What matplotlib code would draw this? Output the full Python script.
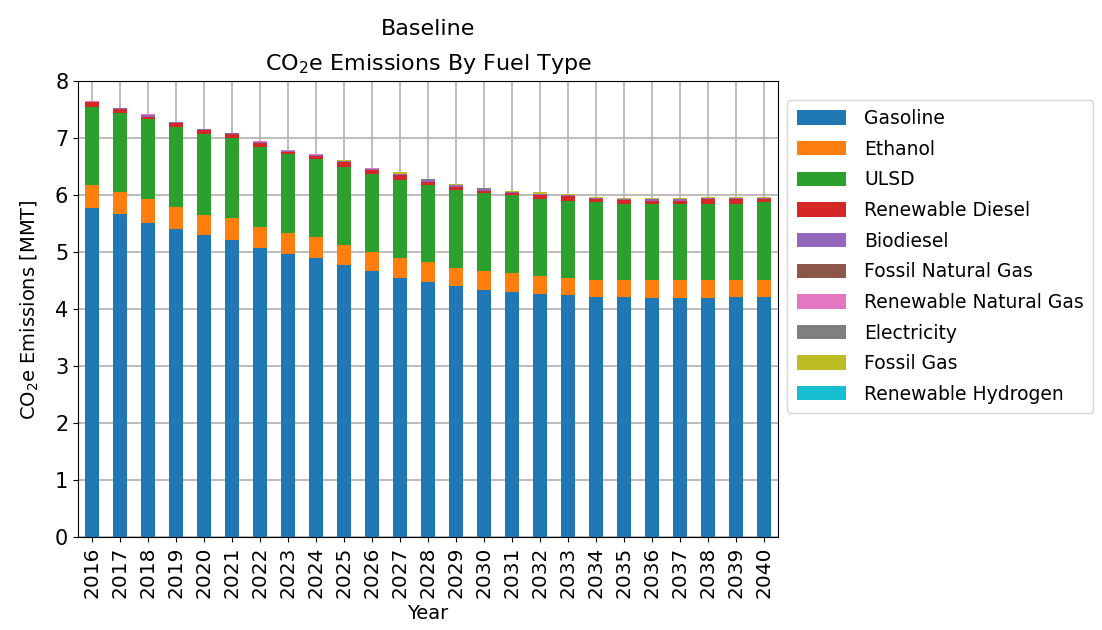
import matplotlib
matplotlib.use("Agg")
import matplotlib.pyplot as plt
import numpy as np

years = list(range(2016, 2041))

gasoline = [5.78, 5.67, 5.52, 5.40, 5.30, 5.22, 5.08, 4.97, 4.90, 4.78, 4.67, 4.55, 4.48,
            4.40, 4.33, 4.30, 4.27, 4.25, 4.22, 4.22, 4.20, 4.20, 4.20, 4.22, 4.22]
ethanol = [0.40, 0.39, 0.41, 0.40, 0.36, 0.38, 0.37, 0.36, 0.37, 0.34, 0.33, 0.35, 0.34,
           0.33, 0.34, 0.33, 0.31, 0.30, 0.30, 0.30, 0.32, 0.32, 0.32, 0.30, 0.30]
ulsd = [1.37, 1.39, 1.40, 1.40, 1.42, 1.40, 1.40, 1.39, 1.36, 1.38, 1.38, 1.37, 1.36,
        1.37, 1.36, 1.37, 1.35, 1.35, 1.36, 1.33, 1.33, 1.33, 1.33, 1.33, 1.36]
renewable_diesel = [0.08, 0.07, 0.05, 0.07, 0.07, 0.08, 0.07, 0.04, 0.05, 0.08, 0.07, 0.08, 0.05,
                    0.05, 0.04, 0.04, 0.07, 0.08, 0.05, 0.07, 0.05, 0.05, 0.08, 0.08, 0.05]
biodiesel = [0.01, 0.01, 0.02, 0.01, 0.01, 0.01, 0.02, 0.02, 0.03, 0.02, 0.01, 0.02, 0.03,
             0.03, 0.04, 0.02, 0.02, 0.02, 0.02, 0.02, 0.04, 0.04, 0.02, 0.02, 0.02]
fossil_natural_gas = [0.0] * 25
renewable_natural_gas = [0.01, 0.0, 0.02, 0.0, 0.01, 0.0, 0.01, 0.02, 0.02, 0.0, 0.01, 0.0, 0.01,
                         0.0, 0.0, 0.0, 0.0, 0.0, 0.0, 0.0, 0.0, 0.0, 0.0, 0.0, 0.0]
electricity = [0.0, 0.0, 0.0, 0.0, 0.0, 0.0, 0.0, 0.0, 0.0, 0.0, 0.0, 0.0, 0.01,
               0.0, 0.02, 0.0, 0.0, 0.0, 0.0, 0.0, 0.0, 0.0, 0.0, 0.0, 0.0]
fossil_gas = [0.0, 0.0, 0.0, 0.0, 0.0, 0.01, 0.0, 0.0, 0.0, 0.02, 0.0, 0.03, 0.0,
              0.02, 0.0, 0.02, 0.03, 0.02, 0.01, 0.01, 0.01, 0.01, 0.01, 0.01, 0.02]
renewable_hydrogen = [0.0] * 25

series_names = ["Gasoline", "Ethanol", "ULSD", "Renewable Diesel", "Biodiesel",
                "Fossil Natural Gas", "Renewable Natural Gas", "Electricity",
                "Fossil Gas", "Renewable Hydrogen"]
series_values = [gasoline, ethanol, ulsd, renewable_diesel, biodiesel,
                 fossil_natural_gas, renewable_natural_gas, electricity,
                 fossil_gas, renewable_hydrogen]
colors = ["#1f77b4", "#ff7f0e", "#2ca02c", "#d62728", "#9467bd",
          "#8c564b", "#e377c2", "#7f7f7f", "#bcbd22", "#17becf"]

fig = plt.figure(figsize=(11.02, 6.3), dpi=100)
ax = fig.add_axes([0.0708, 0.1476, 0.6352, 0.7234])

x = np.arange(len(years))
bottom = np.zeros(len(years))
for name, vals, c in zip(series_names, series_values, colors):
    v = np.array(vals)
    ax.bar(x, v, width=0.5, bottom=bottom, color=c, label=name)
    bottom += v

ax.set_xlim(-0.5, len(years) - 0.5)
ax.set_ylim(0, 8)
ax.set_xticks(x)
ax.set_xticklabels([str(y) for y in years], rotation=90, fontsize=14.5)
ax.tick_params(axis='y', labelsize=15)
ax.set_axisbelow(True)
ax.grid(True, color="#b0b0b0", linewidth=1.2)
ax.set_xlabel("Year", fontsize=14, labelpad=4)
ax.set_ylabel("CO$_2$e Emissions [MMT]", fontsize=14, labelpad=10)
ax.set_title("Baseline\nCO$_2$e Emissions By Fuel Type", fontsize=16, linespacing=1.75, pad=8)

ax.legend(loc="upper left", bbox_to_anchor=(1.0, 0.98), fontsize=13.5,
          handlelength=2.6, handleheight=0.8, labelspacing=0.62, borderpad=0.5,
          handletextpad=1.0, fancybox=True)

fig.savefig("out.png", dpi=100)
